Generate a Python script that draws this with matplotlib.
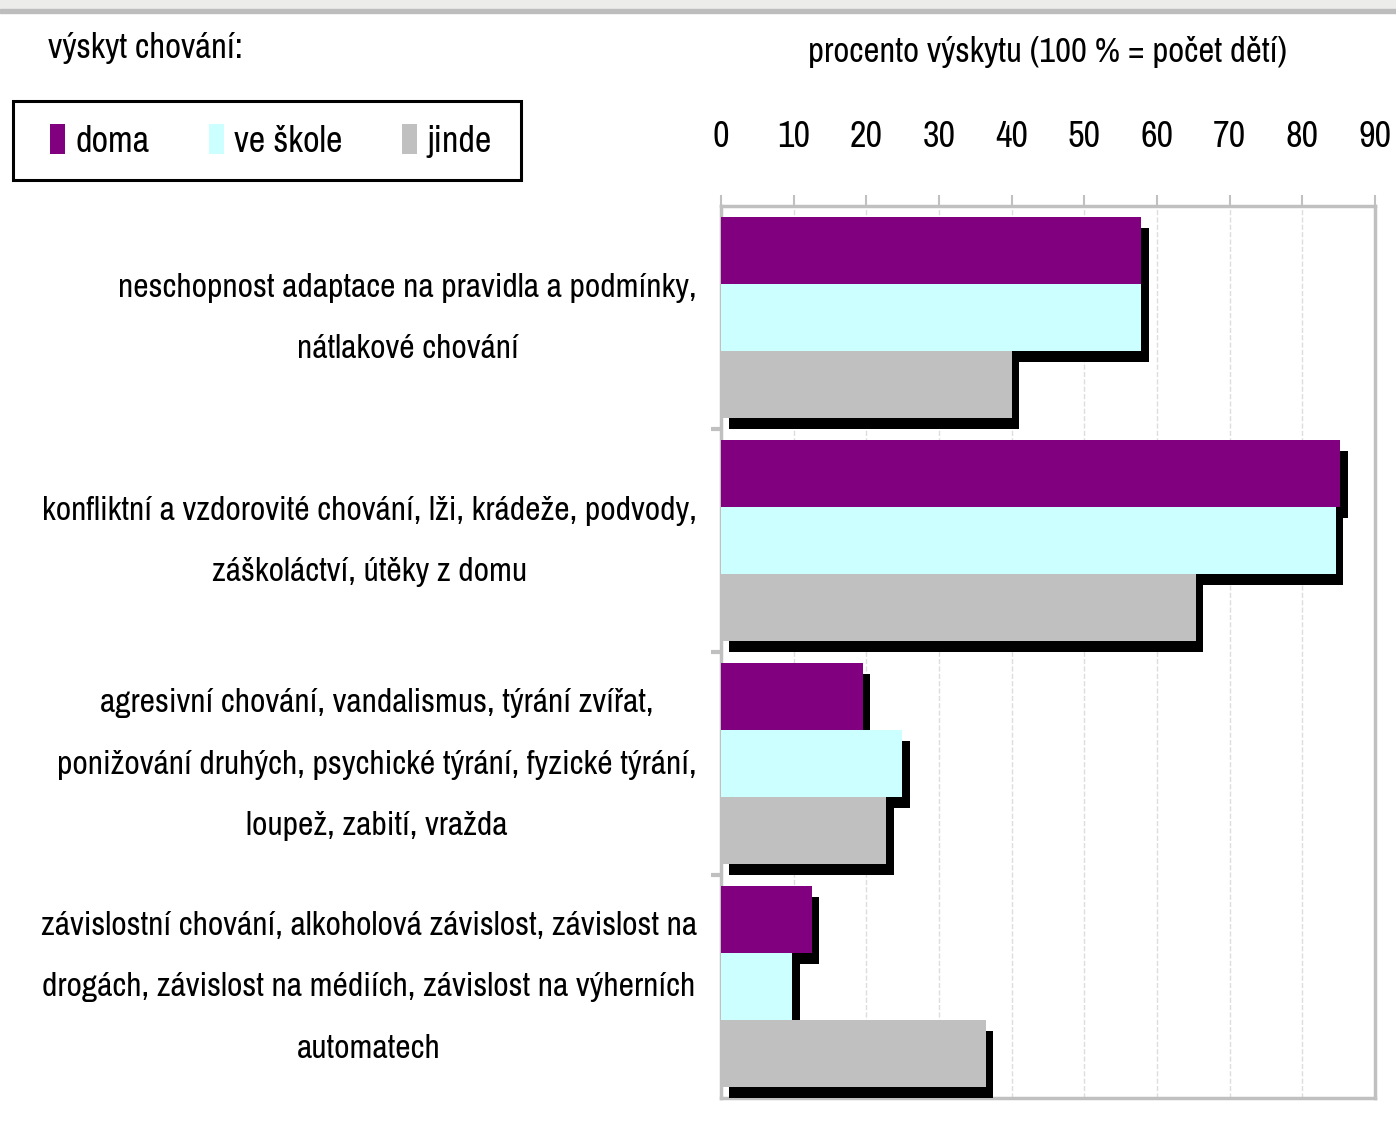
import numpy as np
import matplotlib
matplotlib.use('Agg')
import matplotlib.pyplot as plt
import matplotlib.patheffects as pe
from matplotlib.patches import Rectangle, Patch

plt.rcParams['font.family'] = ['Liberation Sans Narrow', 'Archivo Narrow', 'DejaVu Sans']

# data
categories = [
    'neschopnost adaptace na pravidla a podmínky,\nnátlakové chování',
    'konfliktní a vzdorovité chování, lži, krádeže, podvody,\nzáškoláctví, útěky z domu',
    'agresivní chování, vandalismus, týrání zvířat,\nponižování druhých, psychické týrání, fyzické týrání,\nloupež, zabití, vražda',
    'závislostní chování, alkoholová závislost, závislost na\ndrogách, závislost na médiích, závislost na výherních\nautomatech',
]
series = ['doma', 've škole', 'jinde']
doma = [57.8, 85.2, 19.5, 12.5]
ve_skole = [57.8, 84.6, 24.9, 9.8]
jinde = [40.0, 65.3, 22.7, 36.4]
colors = ['#800080', '#ccffff', '#c0c0c0']
xticks = [0, 10, 20, 30, 40, 50, 60, 70, 80, 90]

fs = 25
fig = plt.figure(figsize=(13.96, 11.44), dpi=100)
ax = fig.add_axes([721/1396, 1 - 1098/1144, (1375-721)/1396, (1098-206)/1144])

y = np.arange(len(categories))
h = 0.3
shadow = [pe.SimplePatchShadow(offset=(5.5, -8), shadow_rgbFace='black', alpha=1.0), pe.Normal()]
for i, (vals, c, lab) in enumerate(zip([doma, ve_skole, jinde], colors, series)):
    bars = ax.barh(y + (i - 1) * h, vals, height=h, color=c, label=lab, zorder=3)
    for b in bars:
        b.set_path_effects(shadow)

ax.set_xlim(0, 90)
ax.set_ylim(3.5, -0.5)
ax.set_xticks(xticks)
ax.xaxis.tick_top()
ax.tick_params(axis='x', direction='out', length=8, width=1.5, color='#c0c0c0',
               labelsize=fs + 1, pad=30)
ax.grid(axis='x', color='#dddddd', linestyle='--', linewidth=1, zorder=0)

# category labels (as text so they can sit a bit higher than the band centre)
ax.set_yticks(y)
ax.set_yticklabels([])
ax.tick_params(axis='y', which='major', length=0)
for yi, txt in zip(y, categories):
    ax.annotate(txt, xy=(0, yi), xycoords=('axes fraction', 'data'),
                xytext=(-24, -1), textcoords='offset pixels',
                ha='right', va='center', multialignment='center',
                linespacing=2.3, fontsize=24.2)
ax.set_yticks([0.5, 1.5, 2.5], minor=True)
ax.tick_params(axis='y', which='minor', length=7, width=3, color='#c0c0c0')

for s in ax.spines.values():
    s.set_color('#c0c0c0')
    s.set_linewidth(2.5)

ax.text(0.5, 1.0 + (206 - 52) / 892, 'procento výskytu (100 % = počet dětí)',
        transform=ax.transAxes, ha='center', va='center', fontsize=fs)

fig.text(48/1396, 1 - 48/1144, 'výskyt chování:', ha='left', va='center', fontsize=fs)

# legend box drawn separately so its size matches
handles = [Patch(facecolor=c, edgecolor='none', label=lab) for c, lab in zip(colors, series)]
leg = ax.legend(handles=handles, loc='center',
                bbox_to_anchor=(271/1396, 1 - 141/1144),
                bbox_transform=fig.transFigure, ncol=3, fontsize=fs + 1,
                handlelength=0.4, handleheight=0.9, handletextpad=0.3, columnspacing=1.65,
                borderpad=0, borderaxespad=0, frameon=False)
fig.patches.append(Rectangle((13/1396, 1 - 180/1144), 508/1396, 79/1144,
                             transform=fig.transFigure, facecolor='none',
                             edgecolor='black', linewidth=2.2))

# top strip
fig.patches.append(Rectangle((0, 1 - 9/1144), 1, 9/1144, transform=fig.transFigure,
                             color='#ececea', zorder=0))
fig.patches.append(Rectangle((0, 1 - 13/1144), 1, 4/1144, transform=fig.transFigure,
                             color='#bdbdbd', zorder=0))

fig.savefig('out.png', dpi=100)
